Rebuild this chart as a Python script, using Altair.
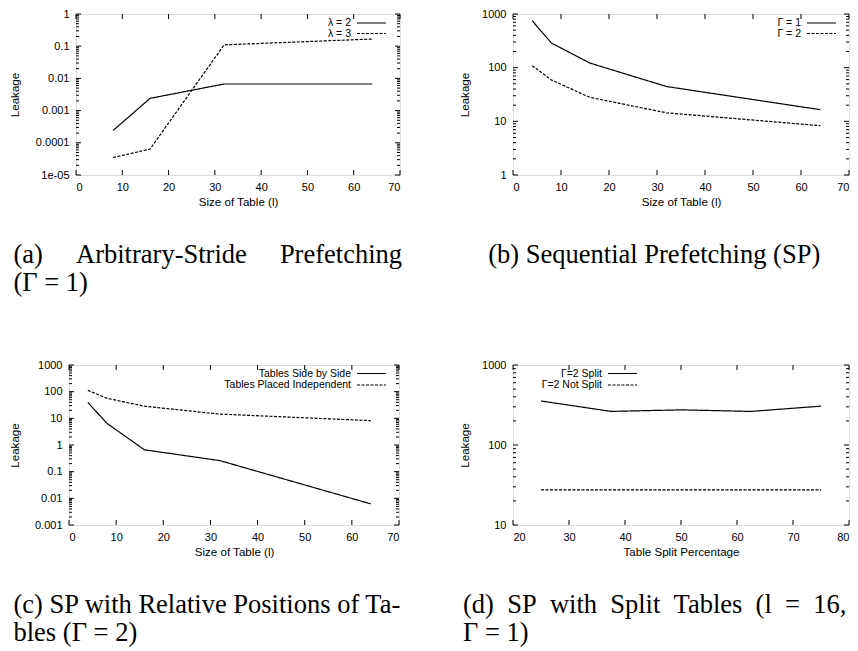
import altair as alt
import pandas as pd

# ---------------- data ----------------
a_x = [8, 16, 32, 64]
a_lam2 = [2.4e-4, 2.4e-3, 6.7e-3, 6.7e-3]
a_lam3 = [3.5e-5, 6.4e-5, 0.11, 0.167]
a_series = ["λ = 2", "λ = 3"]

b_x = [4, 8, 16, 32, 64]
b_g1 = [750, 288, 122, 44.5, 16.5]
b_g2 = [109, 59, 28, 14.4, 8.3]
b_series = ["Γ = 1", "Γ = 2"]

c_x = [4, 8, 16, 32, 64]
c_side = [39.6, 6.6, 0.66, 0.26, 0.0062]
c_indep = [112, 57, 28.5, 14.4, 8.2]
c_series = ["Tables Side by Side", "Tables Placed Independent"]

d_x = [25, 37.5, 50, 62.5, 75]
d_split = [355, 263, 275, 263, 306]
d_nosplit = [27.5, 27.5, 27.5, 27.5, 27.5]
d_series = ["Γ=2 Split", "Γ=2 Not Split"]

x_ticks_abc = [0, 10, 20, 30, 40, 50, 60, 70]
x_ticks_d = [20, 30, 40, 50, 60, 70, 80]

a_yticks = [1e-5, 1e-4, 1e-3, 1e-2, 0.1, 1]
a_ylabels = ["1e-05", "0.0001", "0.001", "0.01", "0.1", "1"]
b_yticks = [1, 10, 100, 1000]
b_ylabels = ["1", "10", "100", "1000"]
c_yticks = [0.001, 0.01, 0.1, 1, 10, 100, 1000]
c_ylabels = ["0.001", "0.01", "0.1", "1", "10", "100", "1000"]
d_yticks = [10, 100, 1000]
d_ylabels = ["10", "100", "1000"]

NB = "\u00a0"
cap_a = ["(a)" + NB * 5 + "Arbitrary-Stride" + NB * 5 + "Prefetching", "(Γ = 1)"]
cap_b = ["(b) Sequential Prefetching (SP)"]
cap_c = ["(c) SP with Relative Positions of Ta-", "bles (Γ = 2)"]
cap_d = ["(d)" + NB * 2 + "SP" + NB * 2 + "with" + NB * 2 + "Split" + NB * 2 + "Tables"
         + NB * 2 + "(l" + NB * 2 + "=" + NB * 2 + "16,", "Γ = 1)"]

SANS = "Liberation Sans"
SERIF = "Liberation Serif"
EXT = 35


def label_expr(vals, labels):
    expr = "'%s'" % labels[-1]
    for v, l in reversed(list(zip(vals[:-1], labels[:-1]))):
        expr = "datum.value < %g ? '%s' : %s" % (v * 1.5, l, expr)
    return expr


def minor_ticks(dom):
    lo, hi = dom
    out = []
    d = lo
    while d < hi:
        for k in range(2, 10):
            v = k * d
            if lo < v < hi:
                out.append(v)
        d *= 10
    return out


def panel(xs, y1, y2, names, xdom, xticks, ydom, yticks, ylabels, xtitle,
          W, H, ytitle_off, leg_right, leg_y, caption, cap_anchor, cap_dx):
    df = pd.DataFrame({
        "x": xs + xs,
        "y": y1 + y2,
        "s": [names[0]] * len(xs) + [names[1]] * len(xs),
    })
    xsc = alt.Scale(domain=xdom, nice=False, zero=False)
    ysc = alt.Scale(type="log", domain=ydom, nice=False)

    common = dict(ticks=False, tickSize=0, domain=False, grid=False,
                  labelFont=SANS, labelFontSize=11, labelColor="black",
                  titleFont=SANS, titleFontSize=11.6, titleFontWeight="normal",
                  titleColor="black")
    lines = alt.Chart(df).mark_line(color="black", strokeWidth=1.2).encode(
        x=alt.X("x:Q", scale=xsc,
                axis=alt.Axis(values=xticks, title=xtitle, format="d",
                              labelPadding=6.5, titlePadding=4, **common)),
        y=alt.Y("y:Q", scale=ysc,
                axis=alt.Axis(values=yticks, labelExpr=label_expr(yticks, ylabels),
                              title="Leakage", labelPadding=7,
                              minExtent=EXT, maxExtent=EXT,
                              titlePadding=ytitle_off - EXT, **common)),
        strokeDash=alt.StrokeDash("s:N", scale=alt.Scale(domain=names, range=[[1, 0], [3, 1.5]]),
                                  legend=None),
    )

    layers = [lines]
    ymaj = pd.DataFrame({"y": yticks})
    ymin = pd.DataFrame({"y": minor_ticks(ydom)})
    xmaj = pd.DataFrame({"x": xticks})
    for dat, L in ((ymaj, 5), (ymin, 3)):
        layers.append(alt.Chart(dat).mark_rule(color="black", strokeWidth=1).encode(
            y=alt.Y("y:Q", scale=ysc), x=alt.value(0), x2=alt.value(L)))
        layers.append(alt.Chart(dat).mark_rule(color="black", strokeWidth=1).encode(
            y=alt.Y("y:Q", scale=ysc), x=alt.value(W - L), x2=alt.value(W)))
    layers.append(alt.Chart(xmaj).mark_rule(color="black", strokeWidth=1).encode(
        x=alt.X("x:Q", scale=xsc), y=alt.value(H - 5), y2=alt.value(H)))
    layers.append(alt.Chart(xmaj).mark_rule(color="black", strokeWidth=1).encode(
        x=alt.X("x:Q", scale=xsc), y=alt.value(0), y2=alt.value(5)))

    dashes = [[1, 0], [3, 1.5]]
    for i, nm in enumerate(names):
        ld = pd.DataFrame({"s": [nm]})
        layers.append(alt.Chart(ld).mark_text(align="right", baseline="middle", font=SANS,
                                              fontSize=10.5, color="black").encode(
            text="s:N", x=alt.value(leg_right), y=alt.value(leg_y[i])))
        layers.append(alt.Chart(ld).mark_rule(color="black", strokeWidth=1.2,
                                              strokeDash=dashes[i]).encode(
            x=alt.value(leg_right + 6), x2=alt.value(leg_right + 35), y=alt.value(leg_y[i])))

    return alt.layer(*layers).properties(
        width=W, height=H,
        title=alt.TitleParams(text=caption, orient="bottom", anchor=cap_anchor, frame="bounds",
                              font=SERIF, fontSize=26.5, fontWeight="normal", color="black",
                              lineHeight=28, offset=34, dx=cap_dx),
    )


def spacer():
    # invisible 1px cell so that the first-column panels are placed by their outer bounds
    return alt.Chart(pd.DataFrame({"s": [0]})).mark_rect(opacity=0).encode(
        x=alt.value(0), x2=alt.value(1), y=alt.value(0), y2=alt.value(1)
    ).properties(width=1, height=1, view=alt.ViewBackground(stroke="transparent"))


pa = panel(a_x, a_lam2, a_lam3, a_series, [0, 70], x_ticks_abc, [1e-5, 1], a_yticks, a_ylabels,
           "Size of Table (l)", 324, 161, 55.5, 275, [9, 19.5], cap_a, "start", 4)
pb = panel(b_x, b_g1, b_g2, b_series, [0, 70], x_ticks_abc, [1, 1000], b_yticks, b_ylabels,
           "Size of Table (l)", 336, 161, 43, 288, [9, 19.5], cap_b, "middle", 0)
pc = panel(c_x, c_side, c_indep, c_series, [0, 70], x_ticks_abc, [0.001, 1000], c_yticks, c_ylabels,
           "Size of Table (l)", 330, 160, 48.5, 282, [8.5, 20], cap_c, "start", 4)
pd_ = panel(d_x, d_split, d_nosplit, d_series, [20, 80], x_ticks_d, [10, 1000], d_yticks, d_ylabels,
            "Table Split Percentage", 336, 160, 43, 89, [8.5, 20], cap_d, "start", 4)

cell_a = alt.hconcat(spacer(), pa, spacing=0)
cell_c = alt.hconcat(spacer(), pc, spacing=0)

chart = alt.concat(cell_a, pb, cell_c, pd_, columns=2, align="none",
                   spacing={"row": 60, "column": 55}).properties(
    padding={"left": -2, "top": -1, "right": 0, "bottom": 0}
).configure_view(stroke="black", strokeWidth=1.2).configure_axis(
    labelFont=SANS, labelFontSize=11, labelColor="black",
    titleFont=SANS, titleFontSize=11.6, titleFontWeight="normal", titleColor="black",
    domain=False, ticks=False, grid=False,
).configure(background="white")

chart.save("out.html", embed_options={"renderer": "svg", "actions": False})
